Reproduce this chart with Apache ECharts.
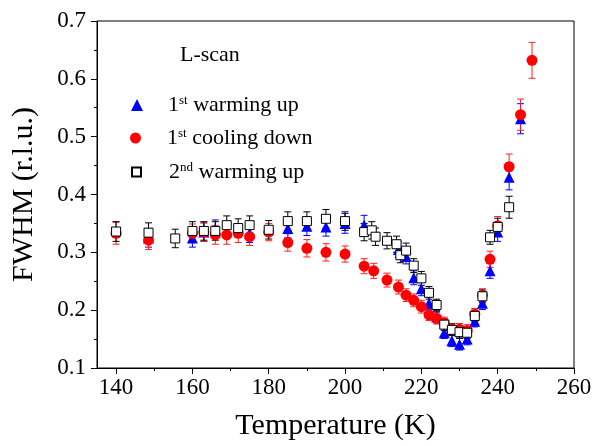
<!DOCTYPE html>
<html lang="en">
<head>
  <meta charset="UTF-8">
  <title>FWHM vs Temperature</title>
  <style>
    html, body { margin: 0; padding: 0; background: #fff; }
    #main { width: 606px; height: 446px; }
  </style>
  <script src="https://cdn.jsdelivr.net/npm/echarts@6/dist/echarts.min.js"></script>
</head>
<body>
  <div id="main"></div>
  <script>
    // 1st warming up (blue triangles)
    var warm1T = [148.5, 160, 163, 166, 175, 185, 190, 195, 200, 205, 214, 216, 218, 220, 222, 224, 226, 228, 230, 232, 234, 236, 238, 240, 243, 246];
    var warm1V = [0.325, 0.325, 0.335, 0.340, 0.333, 0.341, 0.345, 0.344, 0.350, 0.347, 0.305, 0.293, 0.256, 0.237, 0.212, 0.188, 0.161, 0.147, 0.141, 0.150, 0.181, 0.212, 0.268, 0.335, 0.430, 0.531];
    var warm1E = [0.016, 0.016, 0.016, 0.016, 0.016, 0.016, 0.016, 0.016, 0.017, 0.017, 0.014, 0.013, 0.012, 0.012, 0.011, 0.010, 0.010, 0.010, 0.010, 0.010, 0.010, 0.011, 0.013, 0.016, 0.022, 0.026];

    // 1st cooling down (red circles)
    var cool1T = [140, 148.5, 160, 163, 166, 169, 172, 175, 180, 185, 190, 195, 200, 205, 207.5, 211, 214, 216, 218, 220, 222, 224, 226, 228, 230, 232, 234, 236, 238, 240, 243, 246, 249];
    var cool1V = [0.333, 0.321, 0.333, 0.335, 0.330, 0.330, 0.333, 0.327, 0.335, 0.317, 0.307, 0.300, 0.297, 0.276, 0.268, 0.252, 0.240, 0.226, 0.217, 0.206, 0.192, 0.186, 0.178, 0.167, 0.167, 0.165, 0.193, 0.226, 0.288, 0.346, 0.448, 0.538, 0.632];
    var cool1E = [0.019, 0.016, 0.016, 0.016, 0.016, 0.016, 0.016, 0.015, 0.015, 0.015, 0.015, 0.015, 0.014, 0.013, 0.013, 0.012, 0.012, 0.011, 0.011, 0.011, 0.010, 0.010, 0.010, 0.010, 0.010, 0.010, 0.010, 0.011, 0.014, 0.016, 0.022, 0.027, 0.031];

    // 2nd warming up (open squares)
    var warm2T = [140, 148.5, 155.5, 160, 163, 166, 169, 172, 175, 180, 185, 190, 195, 200, 205, 207, 208, 211, 213.5, 214.5, 216, 218, 220, 222, 224, 226, 228, 230, 232, 234, 236, 238, 240, 243];
    var warm2V = [0.336, 0.334, 0.324, 0.337, 0.337, 0.337, 0.347, 0.342, 0.347, 0.339, 0.354, 0.354, 0.358, 0.354, 0.335, 0.338, 0.327, 0.320, 0.314, 0.295, 0.303, 0.277, 0.255, 0.230, 0.209, 0.175, 0.166, 0.162, 0.161, 0.190, 0.224, 0.326, 0.344, 0.378];
    var warm2E = [0.017, 0.017, 0.016, 0.016, 0.016, 0.016, 0.016, 0.016, 0.016, 0.016, 0.016, 0.016, 0.016, 0.016, 0.015, 0.015, 0.015, 0.014, 0.014, 0.013, 0.013, 0.012, 0.012, 0.011, 0.010, 0.010, 0.010, 0.010, 0.010, 0.010, 0.011, 0.012, 0.015, 0.019];

    var xLabels = [140, 160, 180, 200, 220, 240, 260];
    var xMinor = [150, 170, 190, 210, 230, 250];

    var FONT = 'Liberation Serif';

    function zip(t, v, e) {
      return t.map(function (x, i) { return [x, v[i], e[i]]; });
    }

    function errorBars(color) {
      return function (params, api) {
        var x = api.value(0), y = api.value(1), e = api.value(2);
        var hi = api.coord([x, y + e]);
        var lo = api.coord([x, y - e]);
        var w = 3.5;
        var st = { stroke: color, lineWidth: 1 };
        return {
          type: 'group',
          children: [
            { type: 'line', shape: { x1: hi[0], y1: hi[1], x2: lo[0], y2: lo[1] }, style: st },
            { type: 'line', shape: { x1: hi[0] - w, y1: hi[1], x2: hi[0] + w, y2: hi[1] }, style: st },
            { type: 'line', shape: { x1: lo[0] - w, y1: lo[1], x2: lo[0] + w, y2: lo[1] }, style: st }
          ]
        };
      };
    }

    function legendFor(name, num, sup, rest, left, top, size) {
      return {
        data: [name],
        left: left, top: top, padding: 0,
        itemWidth: size, itemHeight: size,
        selectedMode: false,
        formatter: function () { return '{a|' + num + '}{s|' + sup + '}{b| ' + rest + '}'; },
        textStyle: {
          fontFamily: FONT, color: '#000', fontSize: 22,
          rich: {
            a: { fontFamily: FONT, fontSize: 22, color: '#000', padding: [0, 0, 0, 32 - size] },
            s: { fontFamily: FONT, fontSize: 13, color: '#000', verticalAlign: 'top' },
            b: { fontFamily: FONT, fontSize: 22, color: '#000' }
          }
        }
      };
    }

    var chart = echarts.init(document.getElementById('main'), null, { renderer: 'canvas' });

    var option = {
      animation: false,
      backgroundColor: '#fff',
      grid: { left: 97, right: 32, top: 21, bottom: 70, show: true, borderColor: '#000', borderWidth: 1, backgroundColor: 'transparent' },
      legend: [
        legendFor('warm1', '1', 'st', 'warming up', 131, 94, 12),
        legendFor('cool1', '1', 'st', 'cooling down', 130, 127, 11),
        legendFor('warm2', '2', 'nd', 'warming up', 131, 161, 9)
      ],
      graphic: [{
        type: 'text', left: 180, top: 44,
        style: { text: 'L-scan', font: '22px "Liberation Serif"', fill: '#000' }
      }],
      xAxis: [{
        type: 'value', min: 135, max: 260,
        name: 'Temperature (K)', nameLocation: 'middle', nameGap: 43,
        nameTextStyle: { fontFamily: FONT, fontSize: 30, color: '#000' },
        axisLine: { onZero: false, lineStyle: { color: '#000', width: 1 } },
        axisTick: { length: 6, lineStyle: { color: '#000' }, customValues: xLabels },
        axisLabel: { customValues: xLabels, margin: 8, fontFamily: FONT, fontSize: 23, color: '#000' },
        splitLine: { show: false }
      }, {
        type: 'value', min: 135, max: 260, position: 'bottom',
        axisLine: { show: false },
        axisTick: { length: 3, lineStyle: { color: '#000' }, customValues: xMinor },
        axisLabel: { show: false },
        splitLine: { show: false }
      }],
      yAxis: {
        type: 'value', min: 0.1, max: 0.7, interval: 0.1,
        name: 'FWHM (r.l.u.)', nameLocation: 'middle', nameGap: 58,
        nameTextStyle: { fontFamily: FONT, fontSize: 30, color: '#000' },
        axisLine: { show: true, lineStyle: { color: '#000', width: 1 } },
        axisTick: { show: true, length: 6, lineStyle: { color: '#000' } },
        minorTick: { show: true, splitNumber: 2, length: 3, lineStyle: { color: '#000' } },
        axisLabel: { margin: 11, fontFamily: FONT, fontSize: 23, color: '#000' },
        splitLine: { show: false }
      },
      series: [
        { type: 'custom', renderItem: errorBars('#0000ff'), data: zip(warm1T, warm1V, warm1E), z: 1, silent: true },
        { type: 'custom', renderItem: errorBars('#ff2020'), data: zip(cool1T, cool1V, cool1E), z: 1, silent: true },
        { type: 'custom', renderItem: errorBars('#000000'), data: zip(warm2T, warm2V, warm2E), z: 1, silent: true },
        {
          name: 'warm1', type: 'scatter', symbol: 'triangle', symbolSize: 11, z: 3,
          itemStyle: { color: '#0000ff', opacity: 1 },
          data: zip(warm1T, warm1V, warm1E)
        },
        {
          name: 'cool1', type: 'scatter', symbol: 'circle', symbolSize: 11, z: 4,
          itemStyle: { color: '#ff0000', opacity: 1 },
          data: zip(cool1T, cool1V, cool1E)
        },
        {
          name: 'warm2', type: 'scatter', symbol: 'rect', symbolSize: 9, z: 5,
          itemStyle: { color: '#ffffff', borderColor: '#000000', borderWidth: 1, opacity: 1 },
          data: zip(warm2T, warm2V, warm2E)
        }
      ]
    };

    chart.setOption(option);
  </script>
</body>
</html>
